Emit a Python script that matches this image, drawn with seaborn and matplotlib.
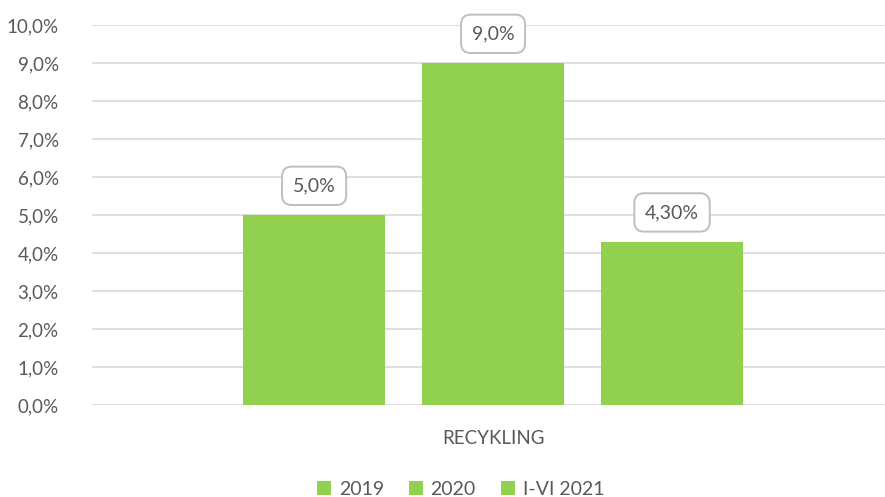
import matplotlib
matplotlib.use('Agg')
import matplotlib.pyplot as plt
import pandas as pd
import seaborn as sns
from matplotlib.ticker import FuncFormatter

# data
category = ['RECYKLING']
periods = ['2019', '2020', 'I-VI 2021']
values = [5.0, 9.0, 4.3]
labels = ['5,0%', '9,0%', '4,30%']

df = pd.DataFrame({'cat': category * len(periods), 'period': periods, 'value': values})

sns.set_theme(style='white')
plt.rcParams['font.family'] = ['Lato', 'DejaVu Sans']
txt = '#595959'
green = '#92D050'

fig = plt.figure(figsize=(8.85, 4.97), dpi=100)
ax = fig.add_axes([92/885, 1-405/497, 1-92/885, 380/497])

sns.barplot(data=df, x='cat', y='value', hue='period', palette=[green]*3,
            width=0.8, gap=0.21, saturation=1, linewidth=0, ax=ax, legend=True)

ax.set_xlim(-0.5976, 0.584)
ax.set_ylim(0, 10)
ax.set_yticks(range(0, 11))
ax.yaxis.set_major_formatter(FuncFormatter(lambda v, p: f'{v:.1f}%'.replace('.', ',')))
ax.grid(axis='y', color='#D9D9D9', linewidth=1.2)
ax.set_axisbelow(True)
for s in ax.spines.values():
    s.set_visible(False)
ax.tick_params(axis='y', length=0, labelsize=13.5, labelcolor=txt, pad=24)
ax.tick_params(axis='x', length=0, labelsize=13.5, labelcolor=txt, pad=18)
ax.set_xlabel('')
ax.set_ylabel('')

# value labels in boxes
for bar, lab in zip(ax.patches, labels):
    cx = bar.get_x() + bar.get_width()/2
    ax.annotate(lab, (cx, bar.get_height()), xytext=(0, 21), textcoords='offset points',
                ha='center', va='center', fontsize=14, color=txt,
                bbox=dict(boxstyle='round,pad=0.55,rounding_size=0.5', fc='white', ec='#BFBFBF', lw=1.4))

leg = ax.legend(loc='center', bbox_to_anchor=(0.465, -0.222), ncol=3, frameon=False,
                fontsize=14, handlelength=0.7, handleheight=0.7, columnspacing=1.3, handletextpad=0.4)
for t in leg.get_texts():
    t.set_color(txt)

fig.savefig('out.png', dpi=100)
